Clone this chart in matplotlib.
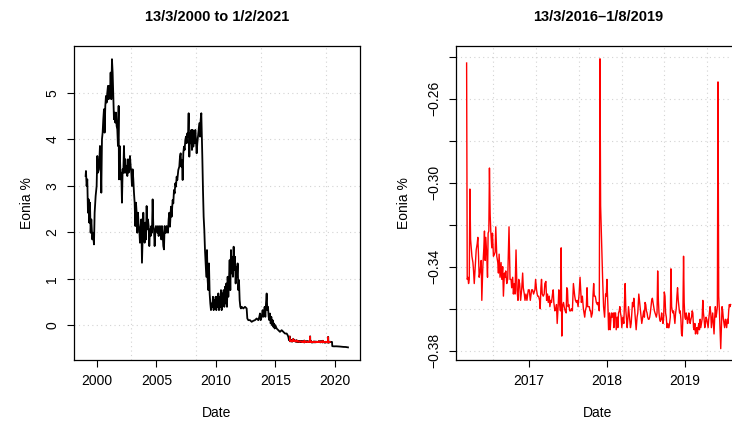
import matplotlib
matplotlib.use("Agg")
import matplotlib.pyplot as plt

plt.rcParams['font.family'] = ['Liberation Sans', 'DejaVu Sans']

# ---------------- data (decimal year, Eonia %) ----------------
left_title = "13/3/2000 to 1/2/2021"
right_title = "13/3/2016\u20131/8/2019"
x_label = "Date"
y_label = "Eonia %"

# 1999 - early 2016 (black)
early_points = [
    (1999.047, 3.211), (1999.075, 3.319), (1999.131, 2.996), (1999.187, 3.139), (1999.243, 2.421),
    (1999.299, 2.708), (1999.355, 2.206), (1999.411, 2.637), (1999.468, 1.990), (1999.524, 2.277),
    (1999.608, 1.846), (1999.664, 1.990), (1999.748, 1.739), (1999.804, 2.421), (1999.888, 2.780),
    (1999.972, 2.996), (2000.028, 3.642), (2000.084, 3.283), (2000.168, 3.355), (2000.252, 3.858),
    (2000.308, 3.642), (2000.364, 2.852), (2000.420, 4.002), (2000.476, 4.145), (2000.532, 4.433),
    (2000.588, 4.648), (2000.644, 4.145), (2000.700, 4.720), (2000.756, 4.935), (2000.812, 4.792),
    (2000.868, 5.007), (2000.924, 5.151), (2000.980, 4.864), (2001.036, 5.151), (2001.092, 4.935),
    (2001.148, 5.438), (2001.204, 4.864), (2001.260, 5.726), (2001.316, 5.438), (2001.372, 4.935),
    (2001.428, 4.433), (2001.484, 4.576), (2001.540, 4.361), (2001.596, 4.576), (2001.652, 4.289),
    (2001.708, 4.217), (2001.764, 3.858), (2001.820, 4.720), (2001.848, 3.139), (2001.904, 3.858),
    (2001.988, 3.139), (2002.044, 3.283), (2002.100, 2.637), (2002.156, 3.355), (2002.212, 3.283),
    (2002.269, 3.858), (2002.325, 3.283), (2002.381, 3.571), (2002.437, 3.283), (2002.493, 3.427),
    (2002.549, 3.211), (2002.605, 3.571), (2002.661, 3.283), (2002.717, 3.355), (2002.773, 3.642),
    (2002.829, 3.427), (2002.885, 3.283), (2002.941, 2.996), (2002.997, 3.355), (2003.053, 3.139),
    (2003.109, 2.852), (2003.165, 2.637), (2003.221, 2.134), (2003.277, 2.637), (2003.333, 2.421),
    (2003.389, 1.990), (2003.445, 2.421), (2003.501, 2.134), (2003.557, 2.062), (2003.613, 1.775),
    (2003.669, 2.134), (2003.725, 2.277), (2003.781, 1.344), (2003.837, 1.918), (2003.893, 2.421),
    (2003.949, 1.990), (2004.005, 1.775), (2004.061, 2.206), (2004.117, 1.846), (2004.173, 2.565),
    (2004.229, 2.062), (2004.285, 2.277), (2004.341, 2.134), (2004.397, 1.703), (2004.453, 2.062),
    (2004.509, 1.918), (2004.565, 2.134), (2004.621, 1.990), (2004.677, 2.708), (2004.733, 2.134),
    (2004.789, 2.062), (2004.845, 1.703), (2004.901, 1.990), (2004.957, 2.134), (2005.013, 2.062),
    (2005.069, 1.990), (2005.125, 2.134), (2005.181, 1.918), (2005.237, 2.062), (2005.293, 2.134),
    (2005.349, 2.062), (2005.405, 1.846), (2005.461, 2.134), (2005.517, 1.990), (2005.573, 1.703),
    (2005.629, 1.631), (2005.685, 2.134), (2005.741, 1.990), (2005.797, 1.990), (2005.853, 2.134),
    (2005.909, 2.062), (2005.965, 1.990), (2006.021, 2.277), (2006.077, 2.421),
    (2006.134, 2.120), (2006.218, 2.551), (2006.274, 2.335), (2006.358, 2.694), (2006.414, 2.622),
    (2006.470, 2.910), (2006.526, 2.838), (2006.582, 3.054), (2006.638, 2.982), (2006.694, 3.197),
    (2006.750, 3.125), (2006.834, 3.341), (2006.918, 3.413), (2006.974, 3.628), (2007.030, 3.700),
    (2007.086, 3.413), (2007.142, 3.556), (2007.198, 3.125), (2007.254, 3.700), (2007.310, 3.844),
    (2007.366, 3.772), (2007.422, 3.987), (2007.478, 4.059), (2007.535, 3.916), (2007.591, 4.131),
    (2007.647, 4.059), (2007.703, 4.562), (2007.759, 3.628), (2007.815, 4.131), (2007.871, 3.916),
    (2007.927, 4.203), (2007.983, 3.772), (2008.039, 4.203), (2008.095, 3.844), (2008.151, 4.131),
    (2008.207, 3.916), (2008.263, 4.203), (2008.319, 3.987), (2008.375, 3.700), (2008.431, 3.916),
    (2008.487, 4.059), (2008.543, 4.203), (2008.599, 4.347), (2008.655, 4.059), (2008.711, 4.418),
    (2008.767, 4.562), (2008.823, 3.987), (2008.851, 3.628), (2008.907, 2.910), (2008.963, 2.335),
    (2009.019, 2.048), (2009.075, 1.617), (2009.131, 1.329), (2009.187, 1.042), (2009.243, 1.617),
    (2009.299, 0.970), (2009.355, 0.755), (2009.411, 1.329), (2009.467, 0.683), (2009.523, 0.467),
    (2009.579, 0.324), (2009.635, 0.467), (2009.691, 0.395), (2009.747, 0.611), (2009.803, 0.324),
    (2009.859, 0.539), (2009.915, 0.395), (2009.971, 0.611), (2010.027, 0.324), (2010.083, 0.611),
    (2010.139, 0.395), (2010.195, 0.683), (2010.251, 0.324), (2010.307, 0.611), (2010.363, 0.395),
    (2010.420, 0.755), (2010.476, 0.324), (2010.532, 0.683), (2010.588, 0.467), (2010.644, 0.755),
    (2010.700, 0.395), (2010.756, 0.826), (2010.812, 0.467), (2010.868, 0.898), (2010.924, 0.395),
    (2010.980, 1.042), (2011.036, 0.611), (2011.092, 0.970), (2011.148, 1.401), (2011.204, 0.755),
    (2011.260, 1.617), (2011.316, 1.114), (2011.372, 1.473), (2011.428, 1.042), (2011.484, 1.689),
    (2011.540, 1.186), (2011.596, 1.473), (2011.652, 0.898), (2011.708, 1.257), (2011.764, 1.042),
    (2011.820, 1.329), (2011.876, 0.755), (2011.932, 0.970), (2011.988, 0.539), (2012.044, 0.395),
    (2012.100, 0.360), (2012.156, 0.395), (2012.296, 0.360), (2012.436, 0.395), (2012.576, 0.360),
    (2012.632, 0.144), (2012.716, 0.108), (2012.856, 0.108), (2012.996, 0.072), (2013.136, 0.094),
    (2013.277, 0.108), (2013.417, 0.144), (2013.557, 0.108), (2013.641, 0.180), (2013.697, 0.252),
    (2013.753, 0.108), (2013.837, 0.180), (2013.921, 0.324), (2013.977, 0.180), (2014.033, 0.252),
    (2014.089, 0.395), (2014.145, 0.180),
    (2014.202, 0.467), (2014.258, 0.682), (2014.314, 0.323), (2014.370, 0.395), (2014.426, 0.179),
    (2014.482, 0.107), (2014.538, 0.251), (2014.594, 0.036), (2014.650, 0.179), (2014.706, 0.000),
    (2014.762, 0.107), (2014.818, -0.036), (2014.874, 0.036), (2014.930, -0.072), (2014.986, 0.000),
    (2015.098, -0.072), (2015.238, -0.108), (2015.378, -0.144), (2015.518, -0.108), (2015.658, -0.144),
    (2015.799, -0.180), (2015.939, -0.180), (2016.023, -0.216), (2016.079, -0.252), (2016.135, -0.324),
]

# 13/3/2016 - 1/8/2019 (red)
mid_points = [
    (2016.200, -0.243), (2016.208, -0.346), (2016.217, -0.345), (2016.225, -0.348), (2016.234, -0.346),
    (2016.242, -0.303), (2016.251, -0.327), (2016.259, -0.331), (2016.268, -0.335), (2016.281, -0.338),
    (2016.289, -0.342), (2016.298, -0.348), (2016.310, -0.340), (2016.323, -0.332), (2016.336, -0.329),
    (2016.344, -0.326), (2016.353, -0.335), (2016.361, -0.345), (2016.374, -0.342), (2016.387, -0.337),
    (2016.395, -0.356), (2016.408, -0.340), (2016.421, -0.331), (2016.429, -0.323), (2016.438, -0.337),
    (2016.446, -0.326), (2016.459, -0.335), (2016.468, -0.345), (2016.476, -0.324), (2016.485, -0.323),
    (2016.493, -0.293), (2016.502, -0.315), (2016.510, -0.323), (2016.523, -0.331), (2016.532, -0.324),
    (2016.544, -0.335), (2016.557, -0.334), (2016.566, -0.333), (2016.574, -0.321), (2016.587, -0.335),
    (2016.600, -0.338), (2016.608, -0.343), (2016.617, -0.334), (2016.629, -0.345), (2016.642, -0.338),
    (2016.651, -0.346), (2016.663, -0.340), (2016.672, -0.354), (2016.685, -0.343), (2016.693, -0.345),
    (2016.702, -0.342), (2016.715, -0.348), (2016.727, -0.346), (2016.744, -0.321), (2016.757, -0.346),
    (2016.770, -0.346), (2016.778, -0.350), (2016.791, -0.345), (2016.800, -0.353), (2016.812, -0.348),
    (2016.821, -0.353), (2016.834, -0.332), (2016.846, -0.351), (2016.859, -0.356), (2016.868, -0.346),
    (2016.880, -0.348), (2016.893, -0.356), (2016.906, -0.351), (2016.919, -0.343), (2016.927, -0.350),
    (2016.940, -0.353), (2016.949, -0.356), (2016.961, -0.353), (2016.974, -0.356), (2016.991, -0.351),
    (2017.004, -0.351), (2017.017, -0.356), (2017.034, -0.351), (2017.046, -0.351), (2017.059, -0.353),
    (2017.076, -0.351), (2017.085, -0.346), (2017.097, -0.351), (2017.110, -0.354), (2017.123, -0.354),
    (2017.136, -0.356), (2017.144, -0.360), (2017.153, -0.350), (2017.161, -0.346), (2017.170, -0.353),
    (2017.183, -0.354), (2017.195, -0.353),
    (2017.204, -0.348), (2017.217, -0.347), (2017.226, -0.356), (2017.238, -0.353), (2017.247, -0.357),
    (2017.260, -0.354), (2017.268, -0.359), (2017.281, -0.356), (2017.289, -0.357), (2017.302, -0.353),
    (2017.311, -0.351), (2017.319, -0.357), (2017.332, -0.361), (2017.345, -0.360), (2017.353, -0.358),
    (2017.362, -0.367), (2017.374, -0.359), (2017.383, -0.351), (2017.391, -0.356), (2017.404, -0.361),
    (2017.413, -0.331), (2017.421, -0.373), (2017.430, -0.359), (2017.443, -0.357), (2017.451, -0.359),
    (2017.464, -0.361), (2017.477, -0.362), (2017.485, -0.350), (2017.494, -0.351), (2017.502, -0.359),
    (2017.511, -0.358), (2017.523, -0.361), (2017.536, -0.361), (2017.545, -0.360), (2017.557, -0.361),
    (2017.570, -0.348), (2017.579, -0.351), (2017.587, -0.354), (2017.596, -0.356), (2017.609, -0.357),
    (2017.617, -0.356), (2017.630, -0.359), (2017.643, -0.353), (2017.655, -0.345), (2017.664, -0.351),
    (2017.672, -0.357), (2017.685, -0.354), (2017.698, -0.360), (2017.706, -0.362), (2017.715, -0.364),
    (2017.723, -0.361), (2017.736, -0.359), (2017.745, -0.350), (2017.753, -0.359), (2017.762, -0.359),
    (2017.774, -0.359), (2017.783, -0.361), (2017.791, -0.361), (2017.800, -0.364), (2017.813, -0.362),
    (2017.821, -0.354), (2017.830, -0.348), (2017.838, -0.354), (2017.851, -0.354), (2017.864, -0.357),
    (2017.877, -0.358), (2017.885, -0.357), (2017.894, -0.359), (2017.902, -0.361), (2017.911, -0.241),
    (2017.919, -0.311), (2017.932, -0.329), (2017.945, -0.346), (2017.957, -0.359), (2017.970, -0.364),
    (2017.983, -0.353), (2017.991, -0.354), (2018.000, -0.346), (2018.013, -0.359), (2018.021, -0.370),
    (2018.034, -0.362), (2018.042, -0.370), (2018.051, -0.365), (2018.060, -0.362), (2018.068, -0.364),
    (2018.081, -0.362), (2018.089, -0.369), (2018.098, -0.362), (2018.111, -0.362), (2018.119, -0.370),
    (2018.132, -0.364), (2018.140, -0.369), (2018.149, -0.362), (2018.158, -0.361), (2018.166, -0.359),
    (2018.174, -0.362), (2018.183, -0.364), (2018.191, -0.369), (2018.204, -0.364), (2018.217, -0.367),
    (2018.226, -0.356), (2018.234, -0.348), (2018.243, -0.361), (2018.251, -0.365), (2018.260, -0.369),
    (2018.268, -0.365), (2018.277, -0.359), (2018.289, -0.364), (2018.302, -0.369), (2018.311, -0.367),
    (2018.319, -0.362), (2018.328, -0.357), (2018.336, -0.359), (2018.345, -0.355),
    (2018.353, -0.359), (2018.366, -0.365), (2018.375, -0.370), (2018.387, -0.364), (2018.396, -0.362),
    (2018.409, -0.353), (2018.417, -0.356), (2018.430, -0.361), (2018.438, -0.364), (2018.447, -0.367),
    (2018.460, -0.364), (2018.472, -0.361), (2018.481, -0.364), (2018.489, -0.357), (2018.498, -0.358),
    (2018.506, -0.361), (2018.515, -0.362), (2018.523, -0.364), (2018.532, -0.365), (2018.540, -0.365),
    (2018.549, -0.364), (2018.557, -0.362), (2018.566, -0.359), (2018.574, -0.356), (2018.583, -0.355),
    (2018.591, -0.357), (2018.600, -0.359), (2018.609, -0.361), (2018.617, -0.362), (2018.626, -0.363),
    (2018.634, -0.364), (2018.643, -0.362), (2018.651, -0.342), (2018.660, -0.356), (2018.668, -0.362),
    (2018.677, -0.365), (2018.685, -0.366), (2018.694, -0.365), (2018.702, -0.362), (2018.711, -0.365),
    (2018.719, -0.367), (2018.728, -0.364), (2018.736, -0.352), (2018.745, -0.354), (2018.753, -0.362),
    (2018.762, -0.364), (2018.770, -0.369), (2018.779, -0.367), (2018.787, -0.369), (2018.796, -0.369),
    (2018.804, -0.367), (2018.813, -0.364), (2018.821, -0.341), (2018.830, -0.359), (2018.838, -0.361),
    (2018.847, -0.362), (2018.855, -0.361), (2018.864, -0.364), (2018.872, -0.367), (2018.881, -0.362),
    (2018.889, -0.360), (2018.898, -0.354), (2018.906, -0.350), (2018.915, -0.356), (2018.923, -0.359),
    (2018.932, -0.362), (2018.940, -0.361), (2018.949, -0.365), (2018.957, -0.372), (2018.966, -0.373),
    (2018.974, -0.365), (2018.983, -0.335), (2018.991, -0.357), (2019.000, -0.364), (2019.009, -0.365),
    (2019.017, -0.362), (2019.026, -0.364), (2019.034, -0.367), (2019.043, -0.365), (2019.051, -0.362),
    (2019.060, -0.365), (2019.068, -0.367), (2019.077, -0.365), (2019.085, -0.364), (2019.094, -0.361),
    (2019.102, -0.362), (2019.111, -0.369), (2019.119, -0.370), (2019.128, -0.367), (2019.136, -0.372),
    (2019.145, -0.370), (2019.153, -0.369), (2019.162, -0.372), (2019.170, -0.369), (2019.179, -0.367),
    (2019.187, -0.370), (2019.196, -0.365), (2019.204, -0.369), (2019.213, -0.367), (2019.221, -0.365),
    (2019.230, -0.356), (2019.238, -0.362), (2019.247, -0.365), (2019.255, -0.369), (2019.264, -0.367),
    (2019.272, -0.364), (2019.281, -0.365), (2019.289, -0.367), (2019.298, -0.369), (2019.306, -0.365),
    (2019.315, -0.362), (2019.323, -0.359), (2019.332, -0.362), (2019.340, -0.369), (2019.349, -0.365),
    (2019.357, -0.362), (2019.366, -0.367), (2019.374, -0.372), (2019.383, -0.364), (2019.391, -0.359),
    (2019.400, -0.364), (2019.408, -0.362), (2019.417, -0.359), (2019.425, -0.252), (2019.434, -0.354),
    (2019.443, -0.361), (2019.451, -0.369), (2019.460, -0.379), (2019.468, -0.370), (2019.477, -0.359),
    (2019.485, -0.361), (2019.494, -0.365), (2019.502, -0.367), (2019.510, -0.369), (2019.519, -0.365),
    (2019.528, -0.367), (2019.536, -0.369), (2019.545, -0.365), (2019.553, -0.367), (2019.562, -0.361),
    (2019.570, -0.358), (2019.579, -0.359), (2019.587, -0.358),
]

# after 1/8/2019 (black)
late_points = [
    (2019.650, -0.360), (2019.750, -0.362), (2019.770, -0.452), (2019.900, -0.456),
    (2020.100, -0.455), (2020.400, -0.460), (2020.700, -0.468), (2020.900, -0.470),
    (2021.090, -0.478),
]

left_xticks = [2000, 2005, 2010, 2015, 2020]
left_yticks = [0, 1, 2, 3, 4, 5]
right_xticks = [2017, 2018, 2019]
right_yticks = [-0.38, -0.36, -0.34, -0.32, -0.30, -0.28, -0.26, -0.24]
right_ylabels = ["\u22120.38", "", "\u22120.34", "", "\u22120.30", "", "\u22120.26", ""]
# R grid() positions on the Date axis (days since 1970-01-01)
left_grid_days = [12000, 14000, 16000, 18000]
right_grid_days = [17000, 17200, 17400, 17600, 17800, 18000]

# ---------------- derived ----------------
all_points = early_points + mid_points + late_points
all_dates = [d for d, v in all_points]
all_vals = [v for d, v in all_points]
mid_dates = [d for d, v in mid_points]
mid_vals = [v for d, v in mid_points]


def day_to_year(d):
    return 1970 + d / 365.2425


W, H = 732, 423
fig = plt.figure(figsize=(W / 100, H / 100), dpi=100)
ax1 = fig.add_axes([74 / W, 1 - 360 / H, (360 - 74) / W, (360 - 46) / H])
ax2 = fig.add_axes([455.7 / W, 1 - 360 / H, (741 - 455.7) / W, (360 - 46) / H])

grid_kw = dict(color='#d3d3d3', linestyle=(0, (1, 3)), lw=0.8, zorder=0)

# left panel
for d in left_grid_days:
    ax1.axvline(day_to_year(d), **grid_kw)
for y in left_yticks:
    ax1.axhline(y, **grid_kw)
ax1.plot(all_dates, all_vals, color='black', lw=1.3, zorder=2)
ax1.plot(mid_dates, mid_vals, color='red', lw=1.0, zorder=3)
ax1.set_xlim(1998.07, 2022.1)
ax1.set_ylim(-0.75, 6.01)
ax1.set_xticks(left_xticks)
ax1.set_xticklabels([str(t) for t in left_xticks])
ax1.set_yticks(left_yticks)
ax1.set_yticklabels([str(t) for t in left_yticks])
ax1.set_title(left_title, fontsize=10.5, fontweight='bold', pad=18)

# right panel
for d in right_grid_days:
    ax2.axvline(day_to_year(d), **grid_kw)
for y in right_yticks:
    ax2.axhline(y, **grid_kw)
ax2.plot(mid_dates, mid_vals, color='red', lw=1.0, zorder=2)
ax2.set_xlim(2016.06, 2019.72)
ax2.set_ylim(-0.3844, -0.2349)
ax2.set_xticks(right_xticks)
ax2.set_xticklabels([str(t) for t in right_xticks])
ax2.set_yticks(right_yticks)
ax2.set_yticklabels(right_ylabels)
ax2.set_title(right_title, fontsize=10.5, fontweight='bold', pad=18)

for ax in (ax1, ax2):
    for s in ax.spines.values():
        s.set_linewidth(0.9)
        s.set_color('black')
    ax.tick_params(direction='out', length=5, width=0.8, labelsize=10, colors='black')
    ax.tick_params(axis='x', pad=5)
    ax.tick_params(axis='y', pad=5.5)
    for lab in ax.get_yticklabels():
        lab.set_rotation(90)
        lab.set_va('center')
        lab.set_ha('right')

fig.text(217 / W, 1 - 413 / H, x_label, ha='center', va='center', fontsize=10)
fig.text(598 / W, 1 - 413 / H, x_label, ha='center', va='center', fontsize=10)
fig.text(27 / W, 1 - 203 / H, y_label, ha='center', va='center', rotation=90, fontsize=10)
fig.text(404 / W, 1 - 203 / H, y_label, ha='center', va='center', rotation=90, fontsize=10)

fig.savefig('out.png', dpi=100)
